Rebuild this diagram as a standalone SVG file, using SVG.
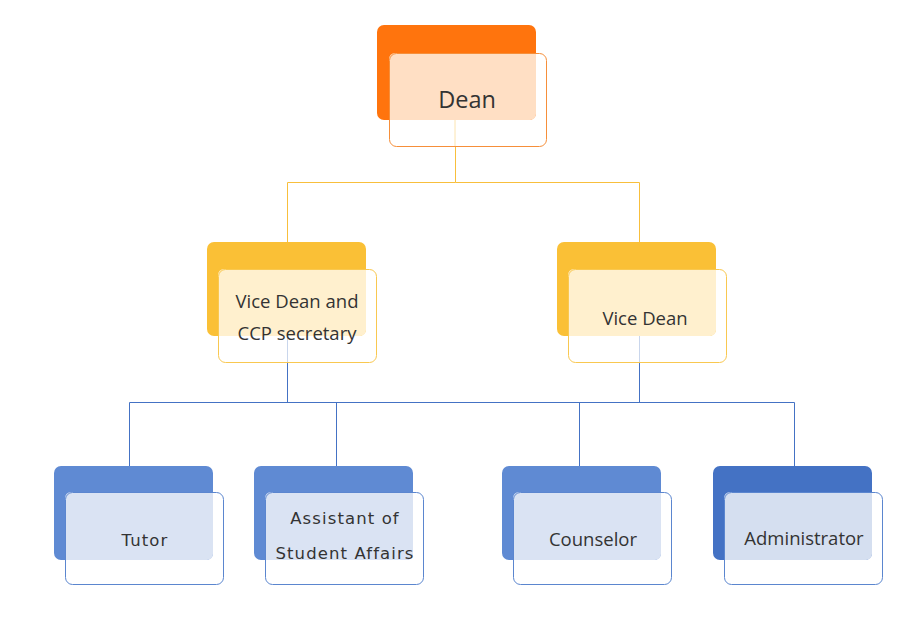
<svg xmlns="http://www.w3.org/2000/svg" width="913" height="634" viewBox="0 0 913 634">
<style>
.t{font-family:"Open Sans","Noto Sans","Liberation Sans",sans-serif;fill:#333;text-anchor:middle}
.v{font-family:"DejaVu Sans","Verdana",sans-serif;fill:#333;text-anchor:middle;letter-spacing:1.1px}
.cg{stroke:#F8BF3C;stroke-width:1;fill:none}
.cb{stroke:#4472C4;stroke-width:1;fill:none}
.fo{fill:none;stroke:#F68F3A;stroke-width:1}
.fy{fill:none;stroke:#F9C850;stroke-width:1}
.fb{fill:none;stroke:#5B86CF;stroke-width:1}
</style>
<rect width="913" height="634" fill="#fff"/>
<g id="connectors">
<line x1="455" y1="120" x2="455" y2="146" stroke="#FCE4B0"/>
<path class="cg" d="M455.5 146V182.5H287.5V242M455.5 182.5H639.5V242"/>
<line x1="287.5" y1="336" x2="287.5" y2="363" stroke="#C9D6EC"/>
<line x1="639.5" y1="336" x2="639.5" y2="363" stroke="#C9D6EC"/>
<path class="cb" d="M287.5 363V402.5M639.5 363V402.5M129.5 466V402.5H794.5V466M336.5 402.5V466M579.5 402.5V466"/>
</g>
<g id="dean">
<rect x="377" y="25" width="159" height="95" rx="7" fill="#FF740D"/>
<path d="M389 120V59a6 6 0 0 1 6-6H536V114a6 6 0 0 1-6 6Z" fill="#FFDFC4"/>
<rect class="fo" x="389.5" y="53.5" width="157" height="93" rx="7"/>
<text class="t" x="467" y="108" font-size="23.5">Dean</text>
</g>
<g id="vicedean1">
<rect x="207" y="242" width="159" height="94" rx="7" fill="#FAC036"/>
<path d="M218 336V275a6 6 0 0 1 6-6H366V330a6 6 0 0 1-6 6Z" fill="#FFF0CE"/>
<rect class="fy" x="218.5" y="269.5" width="158" height="93" rx="7"/>
<text class="t" x="297" y="308" font-size="18.5">Vice Dean and</text>
<text class="t" x="297" y="340" font-size="18.5">CCP secretary</text>
</g>
<g id="vicedean2">
<rect x="557" y="242" width="159" height="94" rx="7" fill="#FAC036"/>
<path d="M568 336V275a6 6 0 0 1 6-6H716V330a6 6 0 0 1-6 6Z" fill="#FFF0CE"/>
<rect class="fy" x="568.5" y="269.5" width="158" height="93" rx="7"/>
<text class="t" x="645" y="325" font-size="18.5">Vice Dean</text>
</g>
<g id="tutor">
<rect x="54" y="466" width="159" height="94" rx="7" fill="#5F8AD3"/>
<path d="M65 560V498a6 6 0 0 1 6-6H213V554a6 6 0 0 1-6 6Z" fill="#DAE3F3"/>
<rect class="fb" x="65.5" y="492.5" width="158" height="92" rx="7"/>
<text class="v" x="145" y="546" font-size="16.5">Tutor</text>
</g>
<g id="assistant">
<rect x="254" y="466" width="159" height="94" rx="7" fill="#5F8AD3"/>
<path d="M265 560V498a6 6 0 0 1 6-6H413V554a6 6 0 0 1-6 6Z" fill="#DAE3F3"/>
<rect class="fb" x="265.5" y="492.5" width="158" height="92" rx="7"/>
<text class="v" x="345" y="524" font-size="16.5">Assistant of</text>
<text class="v" x="345" y="559" font-size="16.5">Student Affairs</text>
</g>
<g id="counselor">
<rect x="502" y="466" width="159" height="94" rx="7" fill="#5F8AD3"/>
<path d="M513 560V498a6 6 0 0 1 6-6H661V554a6 6 0 0 1-6 6Z" fill="#DAE3F3"/>
<rect class="fb" x="513.5" y="492.5" width="158" height="92" rx="7"/>
<text class="t" x="593" y="546" font-size="18.5">Counselor</text>
</g>
<g id="administrator">
<rect x="713" y="466" width="159" height="94" rx="7" fill="#4472C4"/>
<path d="M724 560V498a6 6 0 0 1 6-6H872V554a6 6 0 0 1-6 6Z" fill="#D5DFF0"/>
<rect class="fb" x="724.5" y="492.5" width="158" height="92" rx="7"/>
<text class="t" x="804" y="545" font-size="18.5">Administrator</text>
</g>
</svg>
